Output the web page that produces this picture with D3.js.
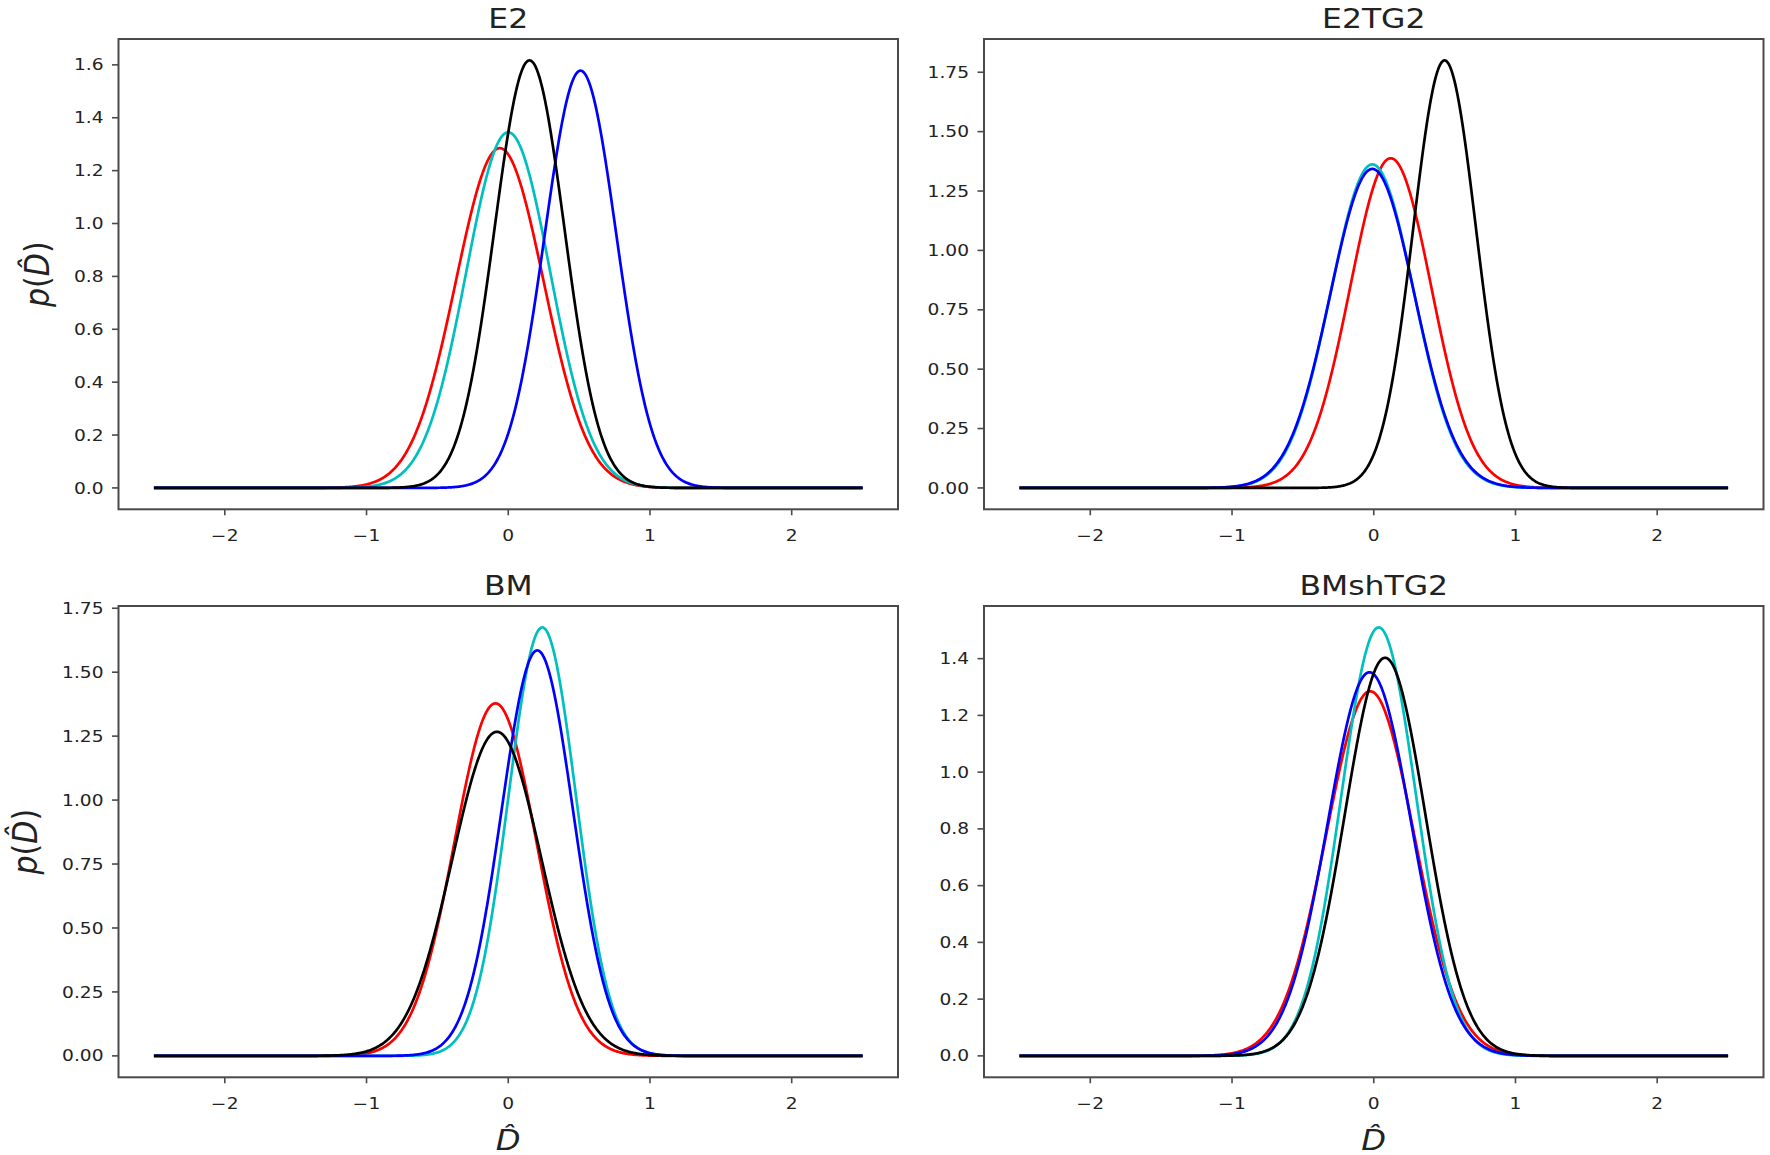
<!DOCTYPE html>
<html><head><meta charset="utf-8">
<script src="https://cdn.jsdelivr.net/npm/d3@7"></script>
<style>body{margin:0;background:#fff}svg{display:block}</style>
</head><body><svg id="c" width="1770" height="1155"></svg>
<script>
// ---- data ----
const panelTitles = ["E2", "E2TG2", "BM", "BMshTG2"];
const seriesNames = ["red", "cyan", "blue", "black"];
const seriesColors = ["#ff0000", "#00bfbf", "#0000ff", "#000000"];
// location of each density peak (x of the maximum), order: red, cyan, blue, black
const meansE2     = [-0.06, 0.00, 0.51, 0.15];
const meansE2TG2  = [0.12, -0.01, -0.01, 0.50];
const meansBM     = [-0.09, 0.24, 0.205, -0.08];
const meansBMsh   = [-0.025, 0.035, -0.03, 0.08];
// peak density height of each normal curve, same order
const peaksE2     = [1.285, 1.345, 1.578, 1.617];
const peaksE2TG2  = [1.388, 1.362, 1.343, 1.800];
const peaksBM     = [1.378, 1.675, 1.585, 1.267];
const peaksBMsh   = [1.285, 1.510, 1.352, 1.403];
// ticks
const xTicks   = [-2, -1, 0, 1, 2];
const yTicksE2     = [0, 0.2, 0.4, 0.6, 0.8, 1.0, 1.2, 1.4, 1.6];
const yTicksE2TG2  = [0, 0.25, 0.5, 0.75, 1.0, 1.25, 1.5, 1.75];
const yTicksBM     = [0, 0.25, 0.5, 0.75, 1.0, 1.25, 1.5, 1.75];
const yTicksBMsh   = [0, 0.2, 0.4, 0.6, 0.8, 1.0, 1.2, 1.4];
const yTickDigits  = [1, 2, 2, 1];
const xRange = [-2.5, 2.5];   // sampled support of the curves

const means = [meansE2, meansE2TG2, meansBM, meansBMsh];
const peaks = [peaksE2, peaksE2TG2, peaksBM, peaksBMsh];
const yTicks = [yTicksE2, yTicksE2TG2, yTicksBM, yTicksBMsh];

// ---- layout ----
const boxes = [
  {x0: 118.5, x1: 898,    y0: 39,  y1: 509.3},
  {x0: 984,   x1: 1763.5, y0: 39,  y1: 509.3},
  {x0: 118.5, x1: 898,    y0: 606, y1: 1077.3},
  {x0: 984,   x1: 1763.5, y0: 606, y1: 1077.3}
];
const SX = 1.2;          // horizontal stretch of the reference picture
const tickFont = 15.5;
const spineColor = "#4a4a4a";
const textColor = "#222";
const FONT = "DejaVu Sans, sans-serif";

const svg = d3.select("#c");
const grid = d3.range(0, 1001).map(i => xRange[0] + (xRange[1] - xRange[0]) * i / 1000);

function stretchedText(parent, x, y, sx) {
  return parent.append("g").attr("transform", `translate(${x},${y}) scale(${sx},1)`).append("text");
}

boxes.forEach((b, pi) => {
  const M = d3.max(peaks[pi]);
  const x = d3.scaleLinear().domain([-2.75, 2.75]).range([b.x0, b.x1]);
  const y = d3.scaleLinear().domain([-0.05 * M, 1.05 * M]).range([b.y1, b.y0]);
  const g = svg.append("g");

  // curves
  const line = d3.line().x(d => x(d[0])).y(d => y(d[1]));
  seriesNames.forEach((s, si) => {
    const mu = means[pi][si], pk = peaks[pi][si];
    const sd = 1 / (pk * Math.sqrt(2 * Math.PI));
    const pts = grid.map(v => [v, pk * Math.exp(-0.5 * ((v - mu) / sd) ** 2)]);
    g.append("path").attr("d", line(pts)).attr("fill", "none")
      .attr("stroke", seriesColors[si]).attr("stroke-width", 2.7)
      .attr("stroke-linejoin", "round");
  });

  // frame
  g.append("rect").attr("x", b.x0).attr("y", b.y0)
    .attr("width", b.x1 - b.x0).attr("height", b.y1 - b.y0)
    .attr("fill", "none").attr("stroke", spineColor).attr("stroke-width", 2);

  // x ticks
  xTicks.forEach(t => {
    g.append("line").attr("x1", x(t)).attr("x2", x(t)).attr("y1", b.y1).attr("y2", b.y1 + 6)
      .attr("stroke", spineColor).attr("stroke-width", 1.6);
    stretchedText(g, x(t), b.y1 + 31.5, SX)
      .attr("text-anchor", "middle").attr("font-family", FONT).attr("font-size", tickFont)
      .attr("fill", textColor)
      .text(t < 0 ? "\u2212" + Math.abs(t) : String(t));
  });
  // y ticks
  yTicks[pi].forEach(t => {
    g.append("line").attr("x1", b.x0 - 6.5).attr("x2", b.x0).attr("y1", y(t)).attr("y2", y(t))
      .attr("stroke", spineColor).attr("stroke-width", 1.6);
    stretchedText(g, b.x0 - 15, y(t) + 5.6, SX)
      .attr("text-anchor", "end").attr("font-family", FONT).attr("font-size", tickFont)
      .attr("fill", textColor)
      .text(t.toFixed(yTickDigits[pi]));
  });

  // title
  stretchedText(g, (b.x0 + b.x1) / 2, b.y0 - 11.5, 1.21)
    .attr("text-anchor", "middle").attr("font-family", FONT).attr("font-size", 26)
    .attr("fill", textColor).text(panelTitles[pi]);

  // y label on left column
  if (pi % 2 === 0) {
    const bx = pi === 0 ? 49 : 36.5;
    const lab = svg.append("g")
      .attr("transform", `translate(${bx},${(b.y0 + b.y1) / 2}) scale(1.15,1) rotate(-90)`)
      .append("text").attr("text-anchor", "middle").attr("font-family", FONT)
      .attr("font-size", 30).attr("fill", textColor);
    lab.append("tspan").attr("font-style", "italic").text("p");
    lab.append("tspan").text("(");
    lab.append("tspan").attr("font-style", "italic").text("D\u0302");
    lab.append("tspan").text(")");
  }
  // x label on bottom row
  if (pi >= 2) {
    stretchedText(svg, (b.x0 + b.x1) / 2, 1150, 1.15)
      .attr("text-anchor", "middle").attr("font-family", FONT).attr("font-size", 28)
      .attr("font-style", "italic").attr("fill", textColor).text("D\u0302");
  }
});
</script>
</body></html>
